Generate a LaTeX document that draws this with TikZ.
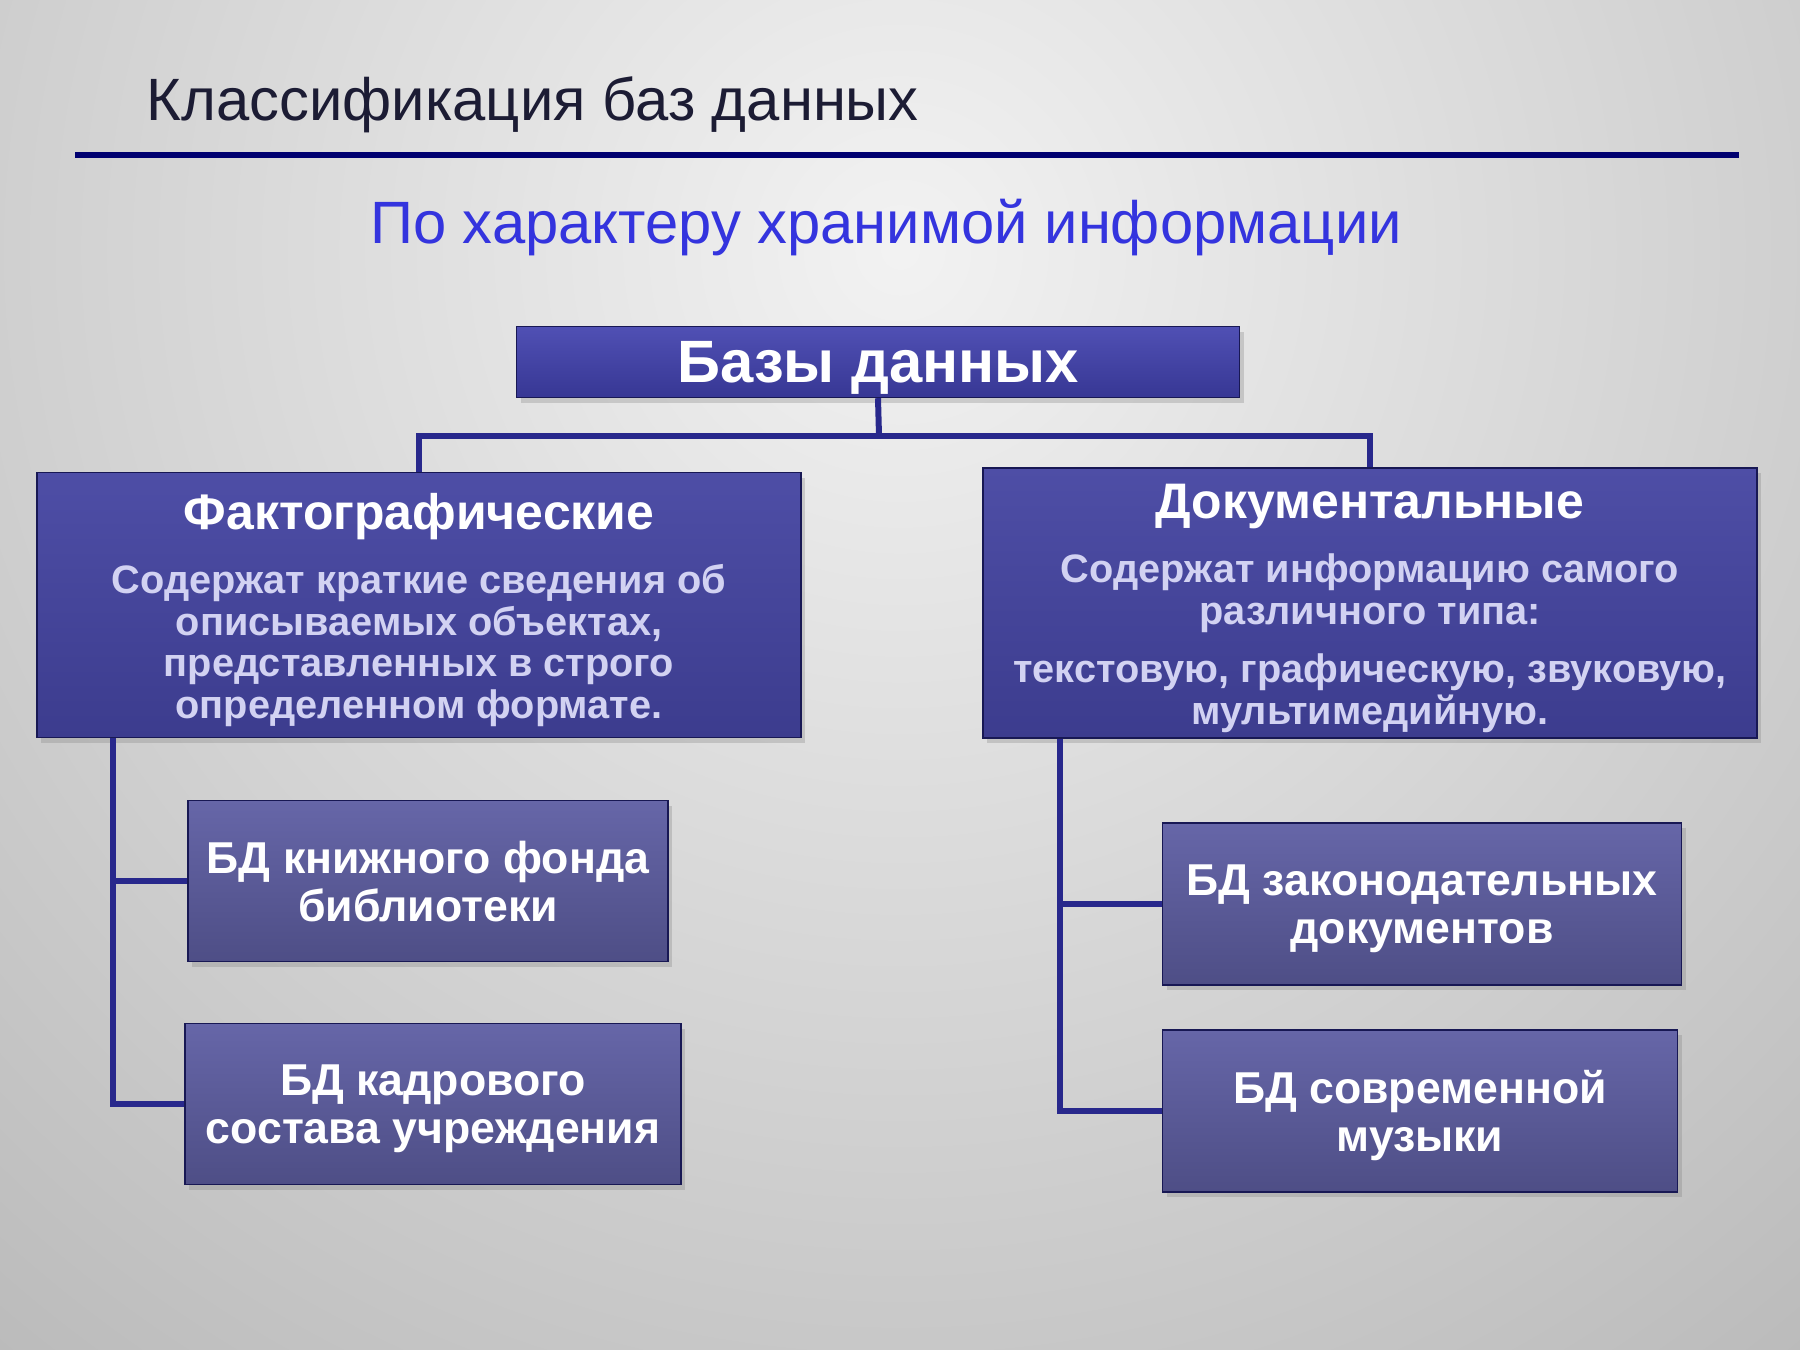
\documentclass[tikz,border=0pt]{standalone}
\usepackage{fontspec}
\setmainfont{Liberation Sans}
\usetikzlibrary{shadows}

\definecolor{rootTop}{RGB}{80,80,180}
\definecolor{rootBot}{RGB}{55,55,148}
\definecolor{mainTop}{RGB}{78,78,166}
\definecolor{mainBot}{RGB}{60,60,142}
\definecolor{subTop}{RGB}{102,102,168}
\definecolor{subBot}{RGB}{78,78,134}
\definecolor{bodyText}{RGB}{210,210,242}
\definecolor{linkBlue}{RGB}{40,40,140}
\definecolor{ruleBlue}{RGB}{0,0,112}
\definecolor{titleInk}{RGB}{28,28,52}
\definecolor{subtitleBlue}{RGB}{52,52,222}

\begin{document}
\begin{tikzpicture}[
                box/.style={
                    rectangle,
                    draw=black!40!linkBlue,
                    line width=0.4pt,
                    inner sep=0pt,
                    align=center,
                    text=white,
                    drop shadow={opacity=0.3,shadow xshift=0.4mm,shadow yshift=-0.5mm}
                },
                rootbox/.style={
                    box,
                    top color=rootTop,
                    bottom color=rootBot,
                    text depth=0pt,
                    font=\fontsize{17}{20}\selectfont\bfseries
                },
                mainbox/.style={
                    box,
                    top color=mainTop,
                    bottom color=mainBot,
                    font=\fontsize{14.2}{16}\selectfont\bfseries
                },
                subbox/.style={
                    box,
                    top color=subTop,
                    bottom color=subBot,
                    text depth=0pt,
                    font=\fontsize{12.7}{13.6}\selectfont\bfseries
                },
                link/.style={
                    draw=linkBlue,
                    line width=0.6mm
                },
                x=0.1mm,
                y=-0.1mm
            ]

        \newcommand{\kindtext}[2]{%
            \begin{tabular}{@{}c@{}}\rule{0pt}{14.2pt}#1\\[1.85mm]
            {\color{bodyText}\fontsize{11.3}{11.8}\selectfont
             \begin{tabular}{@{}c@{}}#2\end{tabular}}%
            \end{tabular}%
        }

        % background
        \useasboundingbox (0,0) rectangle (1800,1350);
        \fill[gray!55] (0,0) rectangle (1800,1350);
        \begin{scope}
            \clip (0,0) rectangle (1800,1350);
            \shade[inner color=white!95!black, outer color=black!43!white]
                (900,250) circle (2500);
        \end{scope}

        % heading
        \node[anchor=base west, inner sep=0pt, text=titleInk,
              font=\fontsize{17}{20}\selectfont] (title)
            at (146,120) {Классификация баз данных};
        \coordinate (ruleL) at (75,155);
        \coordinate (ruleR) at (1739,155);
        \draw[ruleBlue, line width=0.6mm] (ruleL) -- (ruleR);
        \node[anchor=base, inner sep=0pt, text=subtitleBlue,
              font=\fontsize{17}{20}\selectfont] (subtitle)
            at (886,243) {По характеру хранимой информации};

        % root
        \node[rootbox, minimum width=72.3mm, minimum height=7.1mm] (root)
            at (878,362) {Базы данных};

        % two kinds
        \node[mainbox, minimum width=76.4mm, minimum height=26.5mm] (fact)
            at (419,605) {\kindtext{Фактографические}{%
            Содержат краткие сведения об\\
            описываемых объектах,\\
            представленных в строго\\
            определенном формате.}};

        \node[mainbox, minimum width=77.4mm, minimum height=27mm] (doc)
            at (1370,603) {\kindtext{Документальные}{%
            Содержат информацию самого\\
            различного типа:\\[1.7mm]
            текстовую, графическую, звуковую,\\
            мультимедийную.}};

        % examples
        \node[subbox, minimum width=48mm, minimum height=16.1mm] (book)
            at (428,881) {БД книжного фонда\\библиотеки};
        \node[subbox, minimum width=49.6mm, minimum height=16.1mm] (staff)
            at (433,1104) {БД кадрового\\состава учреждения};
        \node[subbox, minimum width=51.9mm, minimum height=16.2mm] (law)
            at (1422,904) {БД законодательных\\документов};
        \node[subbox, minimum width=51.5mm, minimum height=16.2mm] (music)
            at (1420,1111) {БД современной\\музыки};

        % connectors
        \coordinate (split) at (879,436);
        \draw[link] (root.south) -- (split);
        \draw[link] (fact.north) |- (split) -| (doc.north);

        \coordinate (factTrunk) at ([xshift=7.7mm]fact.south west);
        \draw[link] (factTrunk) |- (book.west);
        \draw[link] (factTrunk) |- (staff.west);

        \coordinate (docTrunk) at ([xshift=7.8mm]doc.south west);
        \draw[link] (docTrunk) |- (law.west);
        \draw[link] (docTrunk) |- (music.west);

            \end{tikzpicture}
\end{document}
